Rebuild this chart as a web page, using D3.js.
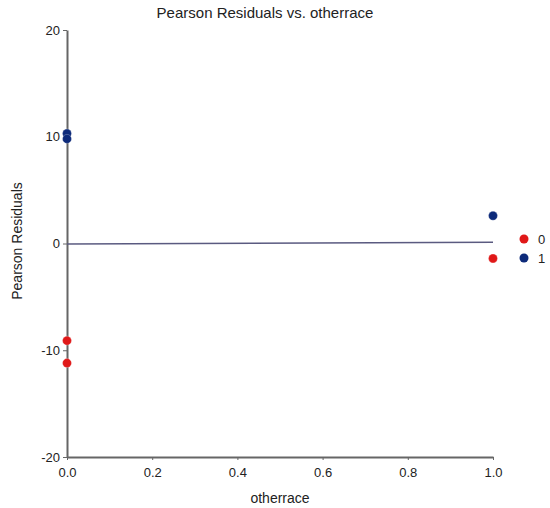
<!DOCTYPE html>
<html><head><meta charset="utf-8">
<script src="https://cdn.jsdelivr.net/npm/d3@7"></script>
<style>body{margin:0;background:#fff}svg{display:block}text{font-family:Arial,"Liberation Sans",sans-serif}</style>
</head><body><svg id="c" width="550" height="508"></svg>
<script>
const groups = ["0", "1"];
const colors = ["#e01818", "#0d2a7a"];
const xVals0 = [0, 0, 1];
const yVals0 = [-9.1, -11.2, -1.4];
const xVals1 = [0, 0, 1];
const yVals1 = [10.3, 9.8, 2.6];
const fitX = [0, 1];
const fitY = [-0.05, 0.12];
const xTicks = [0, 0.2, 0.4, 0.6, 0.8, 1.0];
const yTicks = [-20, -10, 0, 10, 20];

const svg = d3.select("#c");
const x = d3.scaleLinear().domain([0, 1]).range([67, 493]);
const y = d3.scaleLinear().domain([-20, 20]).range([457, 30]);

svg.append("text").attr("x", 265).attr("y", 18).attr("text-anchor", "middle")
  .attr("font-size", 15).attr("fill", "#222").text("Pearson Residuals vs. otherrace");

const gx = svg.append("g").attr("transform", "translate(0,457)")
  .call(d3.axisBottom(x).tickValues(xTicks).tickFormat(d3.format(".1f")).tickSize(3).tickSizeOuter(0));
const gy = svg.append("g").attr("transform", "translate(67,0)")
  .call(d3.axisLeft(y).tickValues(yTicks).tickFormat(d => String(d)).tickSize(4).tickSizeOuter(0));
[gx, gy].forEach(g => {
  g.select(".domain").attr("stroke", "#666").attr("stroke-width", 2);
  g.selectAll(".tick line").attr("stroke", "#666");
  g.selectAll(".tick text").attr("font-size", 13).attr("fill", "#222").attr("font-family", "Arial,'Liberation Sans',sans-serif");
});
gx.selectAll(".tick text").attr("dy", "1.05em");
gy.selectAll(".tick text").attr("x", -7);

svg.append("text").attr("x", 280).attr("y", 503).attr("text-anchor", "middle")
  .attr("font-size", 14).attr("fill", "#222").text("otherrace");
svg.append("text").attr("transform", "translate(22,241) rotate(-90)").attr("text-anchor", "middle")
  .attr("font-size", 14).attr("fill", "#222").text("Pearson Residuals");

svg.append("line").attr("x1", x(fitX[0])).attr("y1", y(fitY[0])).attr("x2", x(fitX[1])).attr("y2", y(fitY[1]))
  .attr("stroke", "#5a5a80").attr("stroke-width", 1.5);

const series = [
  {g: 0, xs: xVals0, ys: yVals0},
  {g: 1, xs: xVals1, ys: yVals1}
];
series.forEach(s => {
  svg.append("g").selectAll("circle").data(s.xs.map((v, i) => [v, s.ys[i]])).join("circle")
    .attr("cx", d => x(d[0])).attr("cy", d => y(d[1])).attr("r", 4.5)
    .attr("fill", colors[s.g]).attr("stroke", "#fff").attr("stroke-opacity", 0.5).attr("stroke-width", 0.5);
});

const leg = svg.append("g");
groups.forEach((g, i) => {
  leg.append("circle").attr("cx", 524).attr("cy", 239 + i * 19).attr("r", 4.5).attr("fill", colors[i]);
  leg.append("text").attr("x", 538).attr("y", 239 + i * 19).attr("dy", "0.35em")
    .attr("font-size", 13).attr("fill", "#222").text(g);
});
</script></body></html>
